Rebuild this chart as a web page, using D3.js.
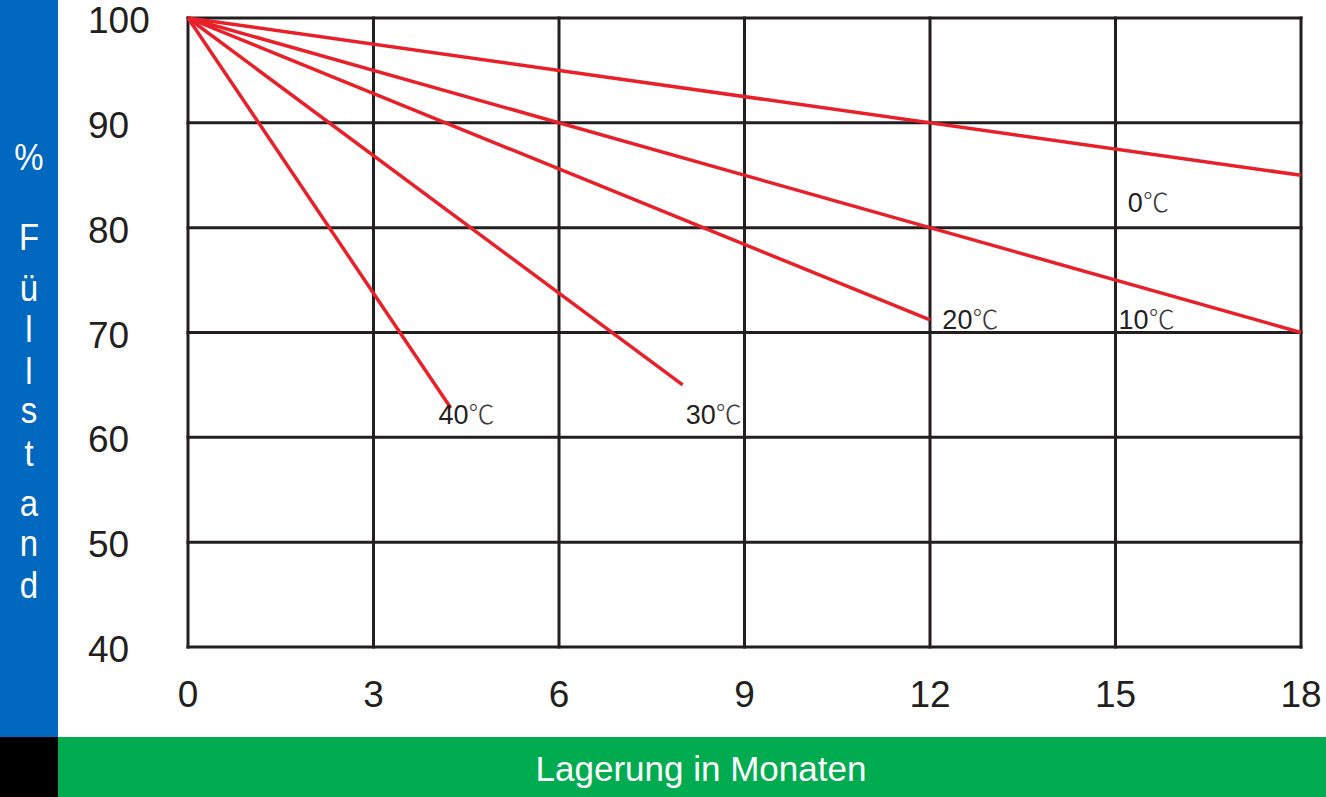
<!DOCTYPE html>
<html><head><meta charset="utf-8">
<script src="https://cdn.jsdelivr.net/npm/d3@7"></script>
<style>html,body{margin:0;padding:0;background:#fff;}svg{display:block;}</style>
</head><body>
<svg id="c" width="1326" height="797"></svg>
<script>
const seriesNames = ["0℃","10℃","20℃","30℃","40℃"];
const startMonths = [0,0,0,0,0];
const startValues = [100,100,100,100,100];
const endMonths = [18,18,12,8,4.25];
const endValues = [85,70,71.2,65,62.8];
const labelMonths = [15.2,15.05,12.2,8.05,4.05];
const labelValues = [81.5,70.3,70.3,61.3,61.3];
const xTicks = [0,3,6,9,12,15,18];
const yTicks = [40,50,60,70,80,90,100];
const yTitle = "% Füllstand";
const xTitle = "Lagerung in Monaten";

const svg = d3.select("#c");
const W = 1326, H = 797;
const x = d3.scaleLinear().domain([0,18]).range([188,1301]);
const y = d3.scaleLinear().domain([40,100]).range([647,18]);

// side bars
svg.append("rect").attr("x",0).attr("y",0).attr("width",58).attr("height",737).attr("fill","#0068bf");
svg.append("rect").attr("x",0).attr("y",737).attr("width",58).attr("height",60).attr("fill","#000");
svg.append("rect").attr("x",58).attr("y",737).attr("width",W-58).attr("height",60).attr("fill","#00ac4f");

// grid
const g = svg.append("g");
g.selectAll("line.v").data(xTicks).join("line")
  .attr("x1",d=>x(d)).attr("x2",d=>x(d)).attr("y1",y(100)-1.5).attr("y2",y(40)+1.5)
  .attr("stroke","#231f20").attr("stroke-width",3);
g.selectAll("line.h").data(yTicks).join("line")
  .attr("y1",d=>y(d)).attr("y2",d=>y(d)).attr("x1",x(0)-1.5).attr("x2",x(18)+1.5)
  .attr("stroke","#231f20").attr("stroke-width",3);

// tick labels
svg.selectAll("text.yt").data(yTicks).join("text")
  .attr("x",88).attr("y",d=>y(d)+15)
  .attr("font-family","Liberation Sans, Arial, sans-serif").attr("font-size",37)
  .attr("fill","#231f20").text(d=>d);
svg.selectAll("text.xt").data(xTicks).join("text")
  .attr("x",d=>x(d)).attr("y",707).attr("text-anchor","middle")
  .attr("font-family","Liberation Sans, Arial, sans-serif").attr("font-size",37)
  .attr("fill","#231f20").text(d=>d);

// lines
const line = d3.line().x(d=>x(d[0])).y(d=>y(d[1]));
const series = seriesNames.map((n,i)=>({name:n, pts:[[startMonths[i],startValues[i]],[endMonths[i],endValues[i]]]}));
svg.selectAll("path.s").data(series).join("path")
  .attr("d",d=>line(d.pts)).attr("fill","none")
  .attr("stroke","#e8202a").attr("stroke-width",3.5);

// series labels
const lab = svg.selectAll("text.sl").data(seriesNames).join("text")
  .attr("x",(d,i)=>x(labelMonths[i])).attr("y",(d,i)=>y(labelValues[i]))
  .attr("font-family","Liberation Sans, Arial, sans-serif").attr("font-size",27)
  .attr("fill","#231f20");
lab.append("tspan").text(d=>d.replace("℃",""));
lab.append("tspan").attr("font-family","Noto Sans CJK SC, DejaVu Sans, sans-serif").attr("font-weight",300).attr("font-size",26).attr("fill","#3a3a3a").text("℃");

// y title (vertical letters)
const chars = Array.from(yTitle).filter(c=>c!==" ");
const cy = [157,237,288,329,371,410,453,503,543,585];
svg.selectAll("text.yl").data(chars).join("text")
  .attr("transform",(d,i)=>`translate(29,${cy[i]}) scale(1,1.12)`)
  .attr("text-anchor","middle").attr("dy","0.36em")
  .attr("font-family","Liberation Sans, Arial, sans-serif").attr("font-size",33)
  .attr("fill","#fff").text(d=>d);

// x title
svg.append("text").attr("x",701).attr("y",781).attr("text-anchor","middle")
  .attr("font-family","Liberation Sans, Arial, sans-serif").attr("font-size",35)
  .attr("fill","#fff").text(xTitle);
</script>
</body></html>
